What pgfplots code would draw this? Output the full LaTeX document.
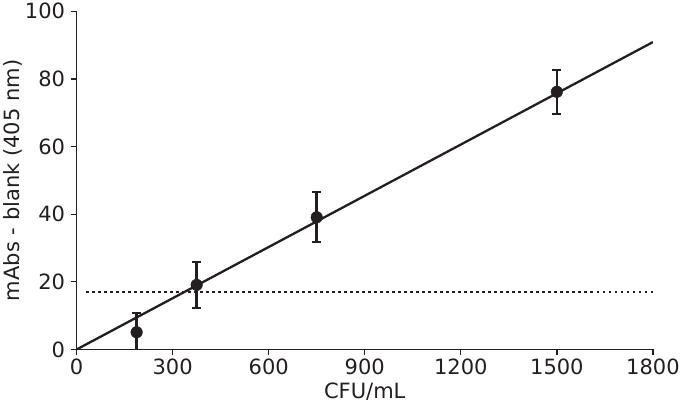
\documentclass[border=0pt]{standalone}
\usepackage{pgfplots}
\pgfplotsset{compat=1.18}
\usepackage{fontspec}
\setmainfont{DejaVu Sans}
\definecolor{ink}{HTML}{231F20}
\begin{document}
\begin{tikzpicture}
\begin{axis}[
 scale only axis, width=576pt, height=338pt,
 xmin=0, xmax=1800, ymin=0, ymax=100,
 axis lines=left, axis line style={-, line width=1.3pt, draw=ink},
 xtick={0,300,...,1800}, ytick={0,20,...,100},
 tick align=outside, major tick length=6pt,
 tick style={line width=1.3pt, draw=ink},
 ticklabel style={font=\fontsize{21}{23}\selectfont, text=ink},
 yticklabel style={xshift=-2pt},
 /pgf/number format/assume math mode=true,
 /pgf/number format/1000 sep={},
 xlabel={CFU/mL}, ylabel={mAbs - blank (405 nm)},
 label style={font=\fontsize{21}{23}\selectfont, text=ink},
 xlabel style={yshift=-1pt},
 ylabel style={yshift=-4pt},
 clip=true,
]
\addplot[ink, line width=2.6pt, dash pattern=on 2.4pt off 3.6pt] coordinates {(30,17) (1800,17)};
\addplot[ink, line width=2.3pt] coordinates {(0,0) (1800,90.9)};
\addplot[ink, only marks, mark=*, mark size=5.8pt, mark options={fill=ink, draw=ink},
 error bars/.cd, y dir=both, y explicit,
 error bar style={line width=2.5pt, ink},
 error mark options={rotate=90, mark size=4.5pt, line width=2pt, ink}]
 coordinates {
 (187.5,5.1) +- (0,5.8)
 (375,19.1) +- (0,6.7)
 (750,39.1) +- (0,7.4)
 (1500,76.2) +- (0,6.5)
 };
\end{axis}
\end{tikzpicture}
\end{document}
